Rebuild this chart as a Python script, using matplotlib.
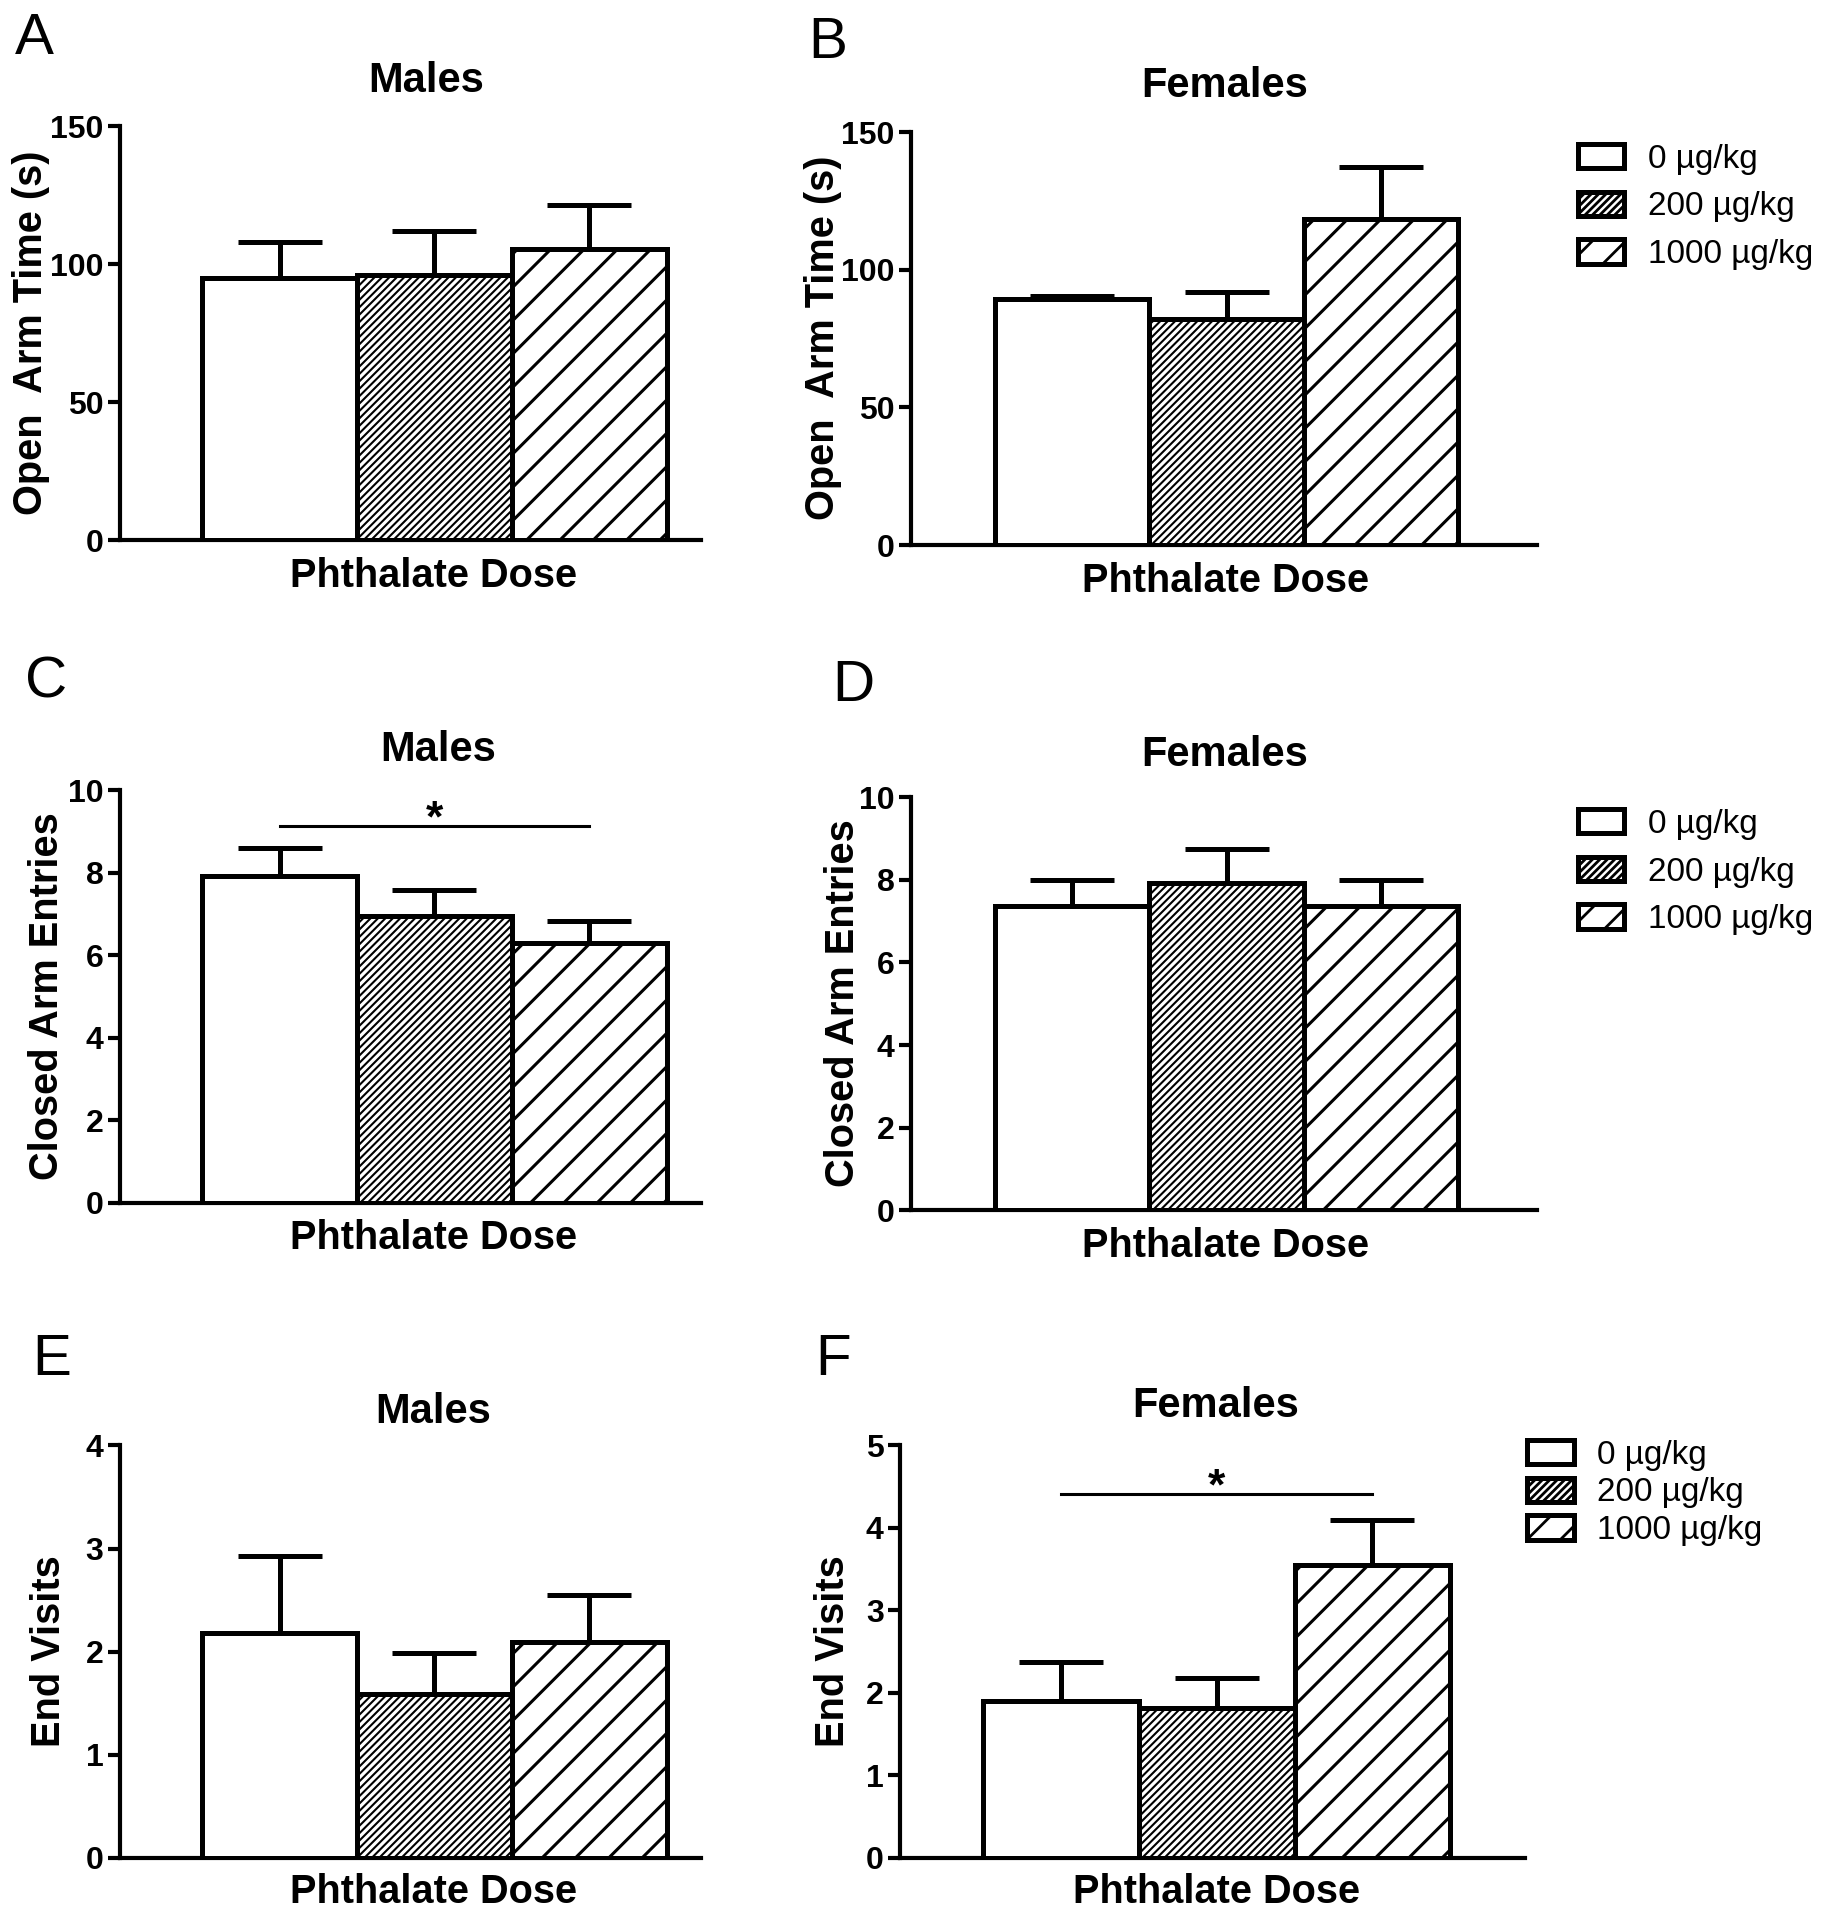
import matplotlib
matplotlib.use("Agg")
import matplotlib.pyplot as plt
import numpy as np

plt.rcParams['font.family'] = ['Liberation Sans', 'DejaVu Sans']

# Data (mean and upper SEM)
doses = ["0 µg/kg", "200 µg/kg", "1000 µg/kg"]

open_arm_m = [95.0, 96.0, 105.5]
open_arm_m_sem = [13.0, 16.0, 16.0]
open_arm_f = [89.5, 82.0, 118.5]
open_arm_f_sem = [1.0, 10.0, 19.0]

closed_m = [7.92, 6.94, 6.29]
closed_m_sem = [0.68, 0.63, 0.53]
closed_f = [7.36, 7.92, 7.36]
closed_f_sem = [0.65, 0.83, 0.65]

end_m = [2.18, 1.59, 2.09]
end_m_sem = [0.75, 0.40, 0.46]
end_f = [1.90, 1.82, 3.55]
end_f_sem = [0.47, 0.36, 0.54]

HATCHES = [None, '/////////', '//']
HATCH_LW = [0.5, 0.75, 1.1]
EDGE_LW = 1.8
SPINE_LW = 1.5

fig = plt.figure(figsize=(9.125, 9.6), dpi=200)


def panel(rect, means, sems, ylim, yticks, xlim, sig=None):
    ax = fig.add_axes(rect)
    x = np.arange(len(means))
    bars = []
    for i in range(len(means)):
        with plt.rc_context({'hatch.linewidth': HATCH_LW[i]}):
            b = ax.bar(x[i], means[i], width=1.0, color='white', edgecolor='black',
                       linewidth=EDGE_LW, hatch=HATCHES[i], label=doses[i], zorder=3)
        for p in b:
            if hasattr(p, 'set_hatch_linewidth'):
                p.set_hatch_linewidth(HATCH_LW[i])
        bars.append(b)
    ax.errorbar(x, means, yerr=[np.zeros(len(sems)), sems], fmt='none', ecolor='black',
                elinewidth=EDGE_LW, capsize=15, capthick=EDGE_LW, zorder=2)
    ax.set_xlim(*xlim)
    ax.set_ylim(*ylim)
    ax.set_yticks(yticks)
    ax.set_xticks([])
    for s in ['top', 'right']:
        ax.spines[s].set_visible(False)
    for s in ['left', 'bottom']:
        ax.spines[s].set_linewidth(SPINE_LW)
    ax.tick_params(axis='y', direction='out', length=4.5, width=SPINE_LW, labelsize=11.5, pad=1.5)
    for t in ax.get_yticklabels():
        t.set_fontweight('bold')
    if sig is not None:
        ax.plot([0, 2], [sig, sig], color='black', lw=1.1, clip_on=False)
        ax.annotate('*', (1, sig), xytext=(0, -2), textcoords='offset points',
                    ha='center', va='baseline', fontsize=16, fontweight='bold')
    return ax, bars


def legend(bars, x, y, spacing):
    fig.legend([b[0] for b in bars], doses, loc='center left', bbox_to_anchor=(x, y),
               frameon=False, fontsize=12, handlelength=1.4, handleheight=0.75,
               handletextpad=0.7, labelspacing=spacing, borderpad=0, borderaxespad=0)


# A
panel([0.0658, 0.7187, 0.3181, 0.2156], open_arm_m, open_arm_m_sem,
      (0, 150), [0, 50, 100, 150], (-1.03, 2.72))
# B
_, bars = panel([0.4993, 0.7161, 0.3430, 0.2150], open_arm_f, open_arm_f_sem,
                (0, 150), [0, 50, 100, 150], (-1.04, 3.01))
legend(bars, 0.8644, 0.8922, 0.5)
# C
panel([0.0658, 0.3735, 0.3181, 0.2150], closed_m, closed_m_sem,
      (0, 10), [0, 2, 4, 6, 8, 10], (-1.03, 2.72), sig=9.14)
# D
_, bars = panel([0.4993, 0.3697, 0.3430, 0.2150], closed_f, closed_f_sem,
                (0, 10), [0, 2, 4, 6, 8, 10], (-1.04, 3.01))
legend(bars, 0.8644, 0.5458, 0.5)
# E
panel([0.0658, 0.0323, 0.3181, 0.2149], end_m, end_m_sem,
      (0, 4), [0, 1, 2, 3, 4], (-1.03, 2.72))
# F
_, bars = panel([0.4933, 0.0323, 0.3422, 0.2149], end_f, end_f_sem,
                (0, 5), [0, 1, 2, 3, 4, 5], (-1.035, 2.98), sig=4.41)
legend(bars, 0.8367, 0.2224, 0.2)

titles = [("Males", 0.2335, 0.9578), ("Females", 0.6712, 0.9552),
          ("Males", 0.2403, 0.6096), ("Females", 0.6712, 0.6070),
          ("Males", 0.2376, 0.2645), ("Females", 0.6664, 0.2677)]
for t, x, y in titles:
    fig.text(x, y, t, ha='center', va='center', fontsize=15, fontweight='bold')

xlabels = [(0.2376, 0.7002), (0.6718, 0.6976), (0.2376, 0.3551),
           (0.6718, 0.3513), (0.2376, 0.0144), (0.6664, 0.0144)]
for x, y in xlabels:
    fig.text(x, y, "Phthalate Dose", ha='center', va='center', fontsize=14.3, fontweight='bold')

ylabels = [("Open  Arm Time (s)", 0.0168, 0.8265), ("Open  Arm Time (s)", 0.4510, 0.8240),
           ("Closed Arm Entries", 0.0255, 0.4814), ("Closed Arm Entries", 0.4618, 0.4776),
           ("End Visits", 0.0268, 0.1401), ("End Visits", 0.4564, 0.1401)]
for t, x, y in ylabels:
    fig.text(x, y, t, ha='center', va='center', rotation=90, fontsize=14.3, fontweight='bold')

letters = [("A", 0.0188, 0.9796), ("B", 0.4537, 0.9777), ("C", 0.0255, 0.6447),
           ("D", 0.4678, 0.6428), ("E", 0.0282, 0.2919), ("F", 0.4564, 0.2919)]
for t, x, y in letters:
    fig.text(x, y, t, ha='center', va='center', fontsize=21)

fig.savefig("out.png", dpi=200)
